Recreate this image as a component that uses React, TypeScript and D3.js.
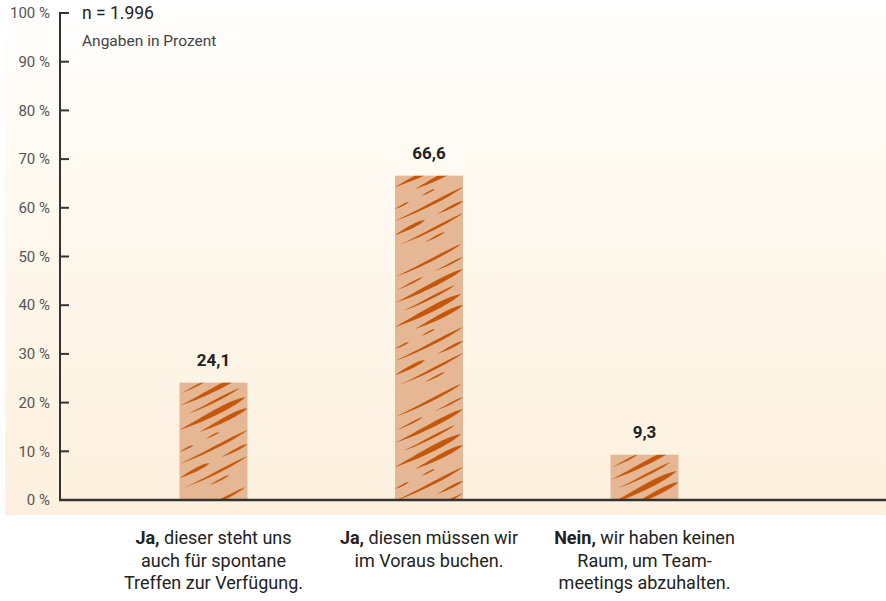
import React from "react";
import * as d3 from "d3";

const categories = ["cat1", "cat2", "cat3"];
const values = [24.1, 66.6, 9.3];
const valueLabels = ["24,1", "66,6", "9,3"];
const categoryLines: { bold: string; rest: string }[][] = [
  [
    { bold: "Ja,", rest: " dieser steht uns" },
    { bold: "", rest: "auch für spontane" },
    { bold: "", rest: "Treffen zur Verfügung." },
  ],
  [
    { bold: "Ja,", rest: " diesen müssen wir" },
    { bold: "", rest: "im Voraus buchen." },
  ],
  [
    { bold: "Nein,", rest: " wir haben keinen" },
    { bold: "", rest: "Raum, um Team-" },
    { bold: "", rest: "meetings abzuhalten." },
  ],
];
const yTicks = [0, 10, 20, 30, 40, 50, 60, 70, 80, 90, 100];
const noteN = "n = 1.996";
const noteUnit = "Angaben in Prozent";

const W = 886;
const H = 601;
const FONT = "Roboto, 'Open Sans', sans-serif";

// decorative brush-stroke texture rows: [leftY, x1, x2, width]
const TILE_W = 68;
const TILE_H = 140;
const strokeRows: number[][] = [
  [20, 0, 66, 4],
  [34, 2, 28, 2.5],
  [34, 40, 68, 2.5],
  [46, 0, 68, 6.5],
  [58, 8, 60, 3.5],
  [70, 0, 66, 8],
  [82, 20, 68, 6.5],
  [92, 0, 14, 2.5],
  [92, 26, 40, 2.2],
  [104, 0, 68, 4],
  [118, 0, 30, 5],
  [118, 42, 68, 3.5],
  [130, 4, 68, 3.5],
  [140, 30, 50, 2.5],
];

function lens(x1: number, y1: number, x2: number, y2: number, w: number) {
  const dx = x2 - x1, dy = y2 - y1;
  const len = Math.hypot(dx, dy);
  const nx = -dy / len, ny = dx / len;
  const bend = len * 0.04;
  const p = (t: number, off: number) => {
    const b = bend * Math.sin(Math.PI * t);
    return `${(x1 + dx * t + nx * (off + b)).toFixed(2)},${(y1 + dy * t + ny * (off + b)).toFixed(2)}`;
  };
  return `M${x1},${y1} C${p(0.35, -w * 0.45)} ${p(0.78, -w * 0.9)} ${x2},${y2} C${p(0.85, w * 0.35)} ${p(0.4, w * 0.2)} ${x1},${y1} Z`;
}

function strokePaths() {
  const out: string[] = [];
  strokeRows.forEach(([yl, a, b, w]) => {
    const slope = 0.5;
    [-TILE_H, 0, TILE_H].forEach((sh) => {
      out.push(lens(a, yl - a * slope + sh, b, yl - b * slope + sh, w));
    });
  });
  return out;
}

export default function App() {
  const y = d3.scaleLinear().domain([0, 100]).range([500, 13]);
  const x = d3.scaleBand().domain(categories).range([105.75, 752.25]).paddingInner(0.68).paddingOuter(0.34);
  const bw = 68;
  const paths = strokePaths();
  return (
    <svg width={W} height={H} style={{ position: "absolute", left: 0, top: 0 }} fontFamily={FONT}>
      <defs>
        <linearGradient id="bg" x1="0" y1="0" x2="0" y2="1">
          <stop offset="0" stopColor="#ffffff" />
          <stop offset="0.3" stopColor="#fffaf2" />
          <stop offset="1" stopColor="#fdf0de" />
        </linearGradient>
        {categories.map((c, i) => {
          const left = (x(c) as number) + x.bandwidth() / 2 - bw / 2;
          return (
            <pattern key={c} id={`brush${i}`} patternUnits="userSpaceOnUse" x={left} y={y(0) + i * 37} width={TILE_W} height={TILE_H}>
              <rect width={TILE_W} height={TILE_H} fill="#e5b795" />
              {paths.map((d, k) => (
                <path key={k} d={d} fill="#c4570a" />
              ))}
            </pattern>
          );
        })}
      </defs>
      <rect x={0} y={0} width={W} height={H} fill="#ffffff" />
      <rect x={5} y={0} width={W - 5} height={515} fill="url(#bg)" />

      {values.map((v, i) => {
        const cx = (x(categories[i]) as number) + x.bandwidth() / 2;
        return (
          <g key={i}>
            <rect x={cx - bw / 2} y={y(v)} width={bw} height={y(0) - y(v)} fill={`url(#brush${i})`} />
            <text x={cx} y={y(v) - 17} textAnchor="middle" fontSize={17} fontWeight="bold" fill="#222">
              {valueLabels[i]}
            </text>
          </g>
        );
      })}

      {/* y axis */}
      <line x1={60} x2={60} y1={y(100) - 1} y2={y(0)} stroke="#333" strokeWidth={2} />
      {yTicks.map((t) => (
        <g key={t}>
          {t > 0 && <line x1={60} x2={69} y1={y(t)} y2={y(t)} stroke="#333" strokeWidth={2} />}
          <text x={50} y={y(t)} dy="0.35em" textAnchor="end" fontSize={15} fill="#555">
            {`${t} %`}
          </text>
        </g>
      ))}
      <line x1={59} x2={W} y1={y(0)} y2={y(0)} stroke="#333" strokeWidth={2.5} />

      <text x={82} y={19} fontSize={17.5} fill="#222">{noteN}</text>
      <text x={82} y={46} fontSize={15.5} fill="#444">{noteUnit}</text>

      {categoryLines.map((lines, i) => {
        const cx = (x(categories[i]) as number) + x.bandwidth() / 2;
        return (
          <text key={i} textAnchor="middle" fontSize={18} fill="#222">
            {lines.map((l, j) => (
              <tspan key={j} x={cx} y={544 + j * 22.5}>
                {l.bold && <tspan fontWeight="bold">{l.bold}</tspan>}
                {l.rest}
              </tspan>
            ))}
          </text>
        );
      })}
    </svg>
  );
}
